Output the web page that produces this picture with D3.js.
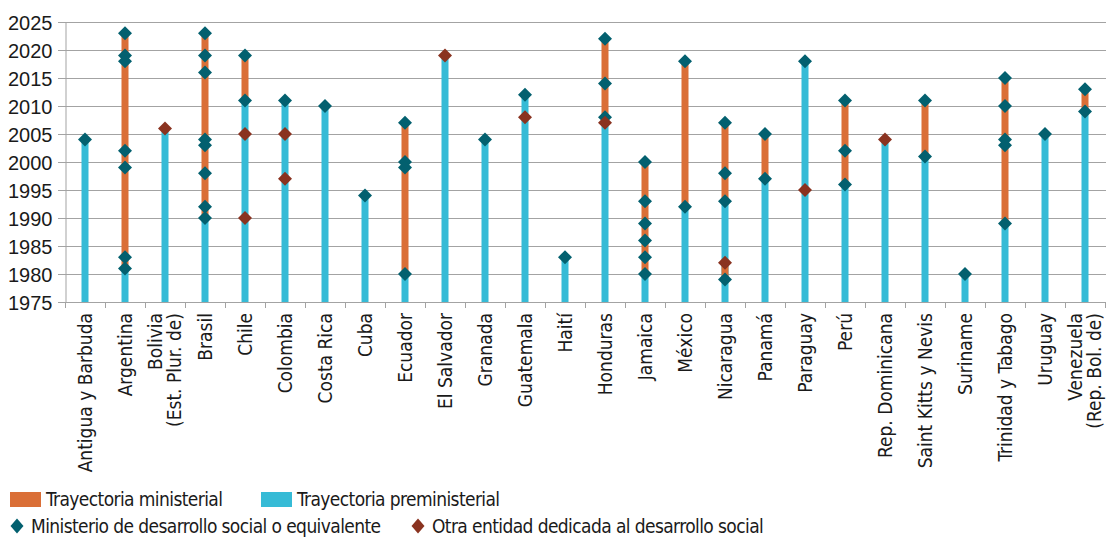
<!DOCTYPE html>
<html>
<head>
<meta charset="utf-8">
<script src="https://cdn.jsdelivr.net/npm/d3@7"></script>
<style>
  body { margin: 0; background: #fff; }
  svg { display: block; font-family: "Liberation Sans Narrow", "DejaVu Sans Condensed", "Roboto", sans-serif; }
</style>
</head>
<body>
<svg width="1106" height="537"></svg>
<script>
var countries = ["Antigua y Barbuda", "Argentina", "Bolivia|(Est. Plur. de)", "Brasil", "Chile",
    "Colombia", "Costa Rica", "Cuba", "Ecuador", "El Salvador", "Granada", "Guatemala", "Haití",
    "Honduras", "Jamaica", "México", "Nicaragua", "Panamá", "Paraguay", "Perú",
    "Rep. Dominicana", "Saint Kitts y Nevis", "Suriname", "Trinidad y Tabago", "Uruguay",
    "Venezuela|(Rep. Bol. de)"];

// top of the preministerial (cyan) bar, bars start at 1975
var preministerial = [2004, 1981, 2006, 1990, 2011, 2011, 2010, 1994, 1980, 2019, 2004, 2012, 1983,
    2008, 1980, 1992, 1993, 1997, 2018, 1996, 2004, 2001, 1980, 1989, 2005, 2009];

// ministerial (orange) segments [start, end]
var ministerial = [[], [[1981, 2023]], [], [[1990, 2023]], [[2011, 2019]], [], [], [], [[1980, 2007]],
    [], [], [], [], [[2008, 2022]], [[1980, 2000]], [[1992, 2018]], [[1979, 1982], [1993, 2007]],
    [[1997, 2005]], [], [[1996, 2011]], [], [[2001, 2011]], [], [[1989, 2015]], [], [[2009, 2013]]];

// Ministerio de desarrollo social o equivalente
var ministryYears = [[2004], [2023, 2019, 2018, 2002, 1999, 1983, 1981], [],
    [2023, 2019, 2016, 2004, 2003, 1998, 1992, 1990], [2019, 2011], [2011], [2010], [1994],
    [2007, 2000, 1999, 1980], [], [2004], [2012], [1983], [2022, 2014, 2008],
    [2000, 1993, 1989, 1986, 1983, 1980], [2018, 1992], [2007, 1998, 1993, 1979], [2005, 1997],
    [2018], [2011, 2002, 1996], [], [2011, 2001], [1980], [2015, 2010, 2004, 2003, 1989], [2005],
    [2013, 2009]];

// Otra entidad dedicada al desarrollo social
var otherYears = [[], [], [2006], [], [2005, 1990], [2005, 1997], [], [], [], [2019], [], [2008], [],
    [2007], [], [], [1982], [], [1995], [], [2004], [], [], [], [], []];

var yearTicks = d3.range(1975, 2026, 5);

var colors = {
    pre: "#36BBD6",
    min: "#DA6F37",
    ministry: "#03606F",
    other: "#8A3320",
    grid: "#A3A3A3",
    text: "#1A1A1A"
};

var svg = d3.select("svg");

var x = d3.scaleBand()
    .domain(countries)
    .range([65, 1105]);

var y = d3.scaleLinear()
    .domain([1975, 2025])
    .range([302, 22]);

var barW = 7;
var cx = function(c) { return x(c) + x.bandwidth() / 2; };

// gridlines
svg.append("g")
    .selectAll("line")
    .data(yearTicks).enter()
    .append("line")
    .attr("x1", 58).attr("x2", 1106)
    .attr("y1", function(d) { return y(d) + 0.5; })
    .attr("y2", function(d) { return y(d) + 0.5; })
    .style("stroke", colors.grid)
    .style("stroke-width", 1);

// y axis
var yAxis = svg.append("g")
    .attr("transform", "translate(65.5,0)")
    .call(d3.axisLeft(y).tickValues(yearTicks).tickFormat(d3.format("d")).tickSize(0).tickPadding(13));
yAxis.select(".domain").style("stroke", colors.grid);
yAxis.selectAll("text")
    .style("font-size", "20px")
    .style("fill", colors.text)
    .attr("dy", "0.35em");

// x axis boundary ticks
var bounds = countries.map(function(c) { return x(c); }).concat([x.range()[1]]);
svg.append("g")
    .selectAll("line")
    .data(bounds).enter()
    .append("line")
    .attr("x1", function(d) { return Math.round(d) + 0.5; })
    .attr("x2", function(d) { return Math.round(d) + 0.5; })
    .attr("y1", 302).attr("y2", 308)
    .style("stroke", colors.grid);

// bars
svg.append("g")
    .selectAll("rect")
    .data(countries).enter()
    .append("rect")
    .attr("x", function(c) { return cx(c) - barW / 2; })
    .attr("width", barW)
    .attr("y", function(c, i) { return y(preministerial[i]); })
    .attr("height", function(c, i) { return y(1975) - y(preministerial[i]); })
    .style("fill", colors.pre);

var segs = [];
ministerial.forEach(function(list, i) {
    list.forEach(function(s) { segs.push({ c: countries[i], start: s[0], end: s[1] }); });
});
svg.append("g")
    .selectAll("rect")
    .data(segs).enter()
    .append("rect")
    .attr("x", function(d) { return cx(d.c) - barW / 2; })
    .attr("width", barW)
    .attr("y", function(d) { return y(d.end); })
    .attr("height", function(d) { return y(d.start) - y(d.end); })
    .style("fill", colors.min);

// diamonds
var dPath = "M0,-7L7,0L0,7L-7,0Z";
function points(arr) {
    var out = [];
    arr.forEach(function(list, i) {
        list.forEach(function(v) { out.push({ c: countries[i], year: v }); });
    });
    return out;
}
svg.append("g")
    .selectAll("path")
    .data(points(ministryYears)).enter()
    .append("path")
    .attr("d", dPath)
    .attr("transform", function(d) { return "translate(" + cx(d.c) + "," + y(d.year) + ")"; })
    .style("fill", colors.ministry);
svg.append("g")
    .selectAll("path")
    .data(points(otherYears)).enter()
    .append("path")
    .attr("d", dPath)
    .attr("transform", function(d) { return "translate(" + cx(d.c) + "," + y(d.year) + ")"; })
    .style("fill", colors.other);

// category labels
var labels = svg.append("g")
    .selectAll("text")
    .data(countries).enter()
    .append("text")
    .attr("transform", function(c) { return "translate(" + cx(c) + ",313) rotate(-90)"; })
    .attr("text-anchor", "end")
    .style("font-size", "19px")
    .style("fill", colors.text);
labels.each(function(c) {
    var parts = c.split("|");
    var t = d3.select(this);
    parts.forEach(function(p, k) {
        var off = (k - (parts.length - 1) / 2) * 19;
        t.append("tspan")
            .attr("x", 0)
            .attr("y", off)
            .attr("dy", "0.35em")
            .text(p);
    });
});

// legend
var legend = svg.append("g")
    .style("font-size", "19px")
    .style("letter-spacing", "-0.6px")
    .style("fill", colors.text);
var boxes = [
    { label: "Trayectoria ministerial", color: colors.min, x: 10 },
    { label: "Trayectoria preministerial", color: colors.pre, x: 261 }
];
boxes.forEach(function(b) {
    legend.append("rect").attr("x", b.x).attr("y", 492).attr("width", 31).attr("height", 15)
        .style("fill", b.color);
    legend.append("text").attr("x", b.x + 36).attr("y", 499).attr("dy", "0.35em").text(b.label);
});
var marks = [
    { label: "Ministerio de desarrollo social o equivalente", color: colors.ministry, x: 17 },
    { label: "Otra entidad dedicada al desarrollo social", color: colors.other, x: 418 }
];
marks.forEach(function(m) {
    legend.append("path").attr("d", "M0,-7.5L6.5,0L0,7.5L-6.5,0Z")
        .attr("transform", "translate(" + m.x + ",526)")
        .style("fill", m.color);
    legend.append("text").attr("x", m.x + 14).attr("y", 526).attr("dy", "0.35em").text(m.label);
});
</script>
</body>
</html>
